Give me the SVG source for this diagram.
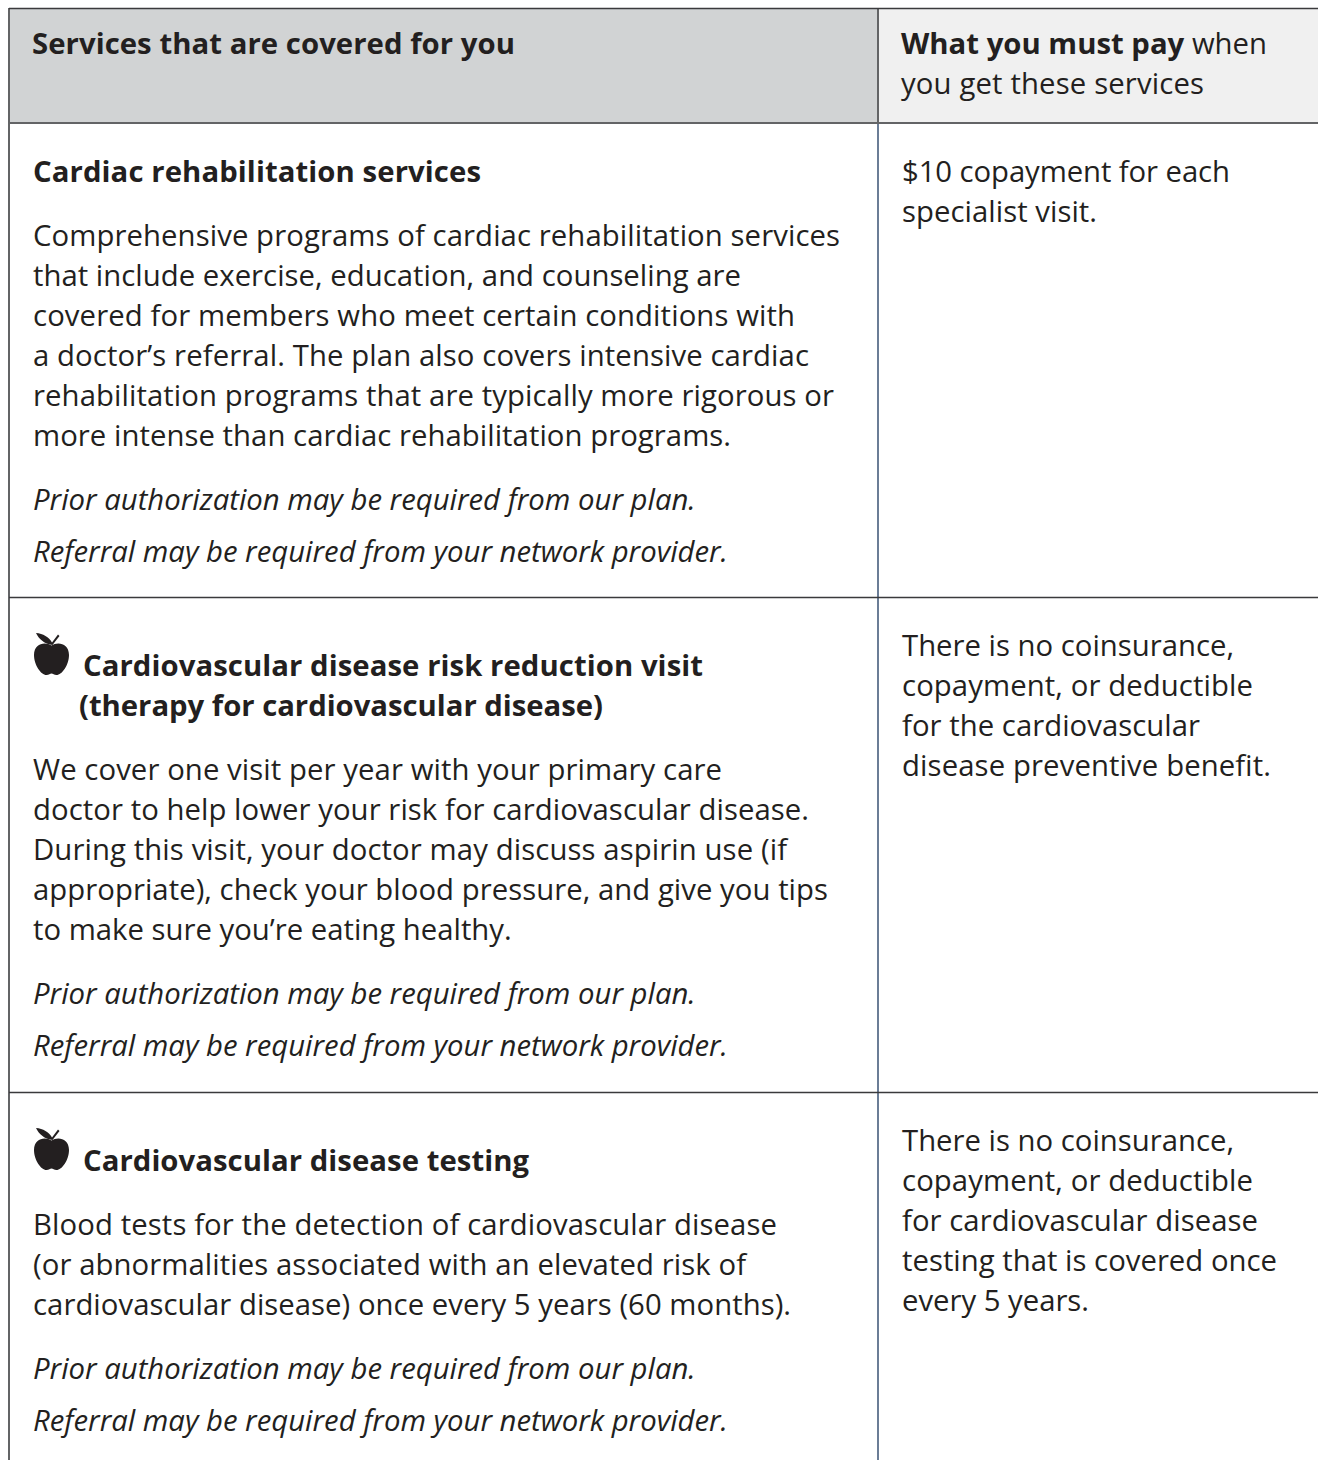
<svg xmlns="http://www.w3.org/2000/svg" width="1318" height="1460" viewBox="0 0 1318 1460">
<style>
text{font-family:"Open Sans","Noto Sans",sans-serif;font-size:29.3px;fill:#231f20}
.b{font-weight:700}.i{font-style:italic}
.l{stroke:#6b7d96;stroke-width:2;fill:none}
.k{stroke:#636466;stroke-width:2;fill:none}
.d{stroke:#3a3a3c;stroke-width:1.500;fill:none}
</style>
<defs>
<g id="apple"><path d="M18.500 12.500C13 8.500 1 9.500 1 22C1 32 8 42 13.500 42C16 42 17 40.500 18.500 40.500C20 40.500 21 42 23.500 42C29 42 36 32 36 22C36 9.500 24 8.500 18.500 12.500Z" fill="#231f20"/><path d="M3 0C10 0.500 16 4 19 9.500L25 1.500L26.500 3L19.500 12L17 11.500C12 10.500 6 6.500 3 0Z" fill="#231f20"/></g>
</defs>
<rect width="1318" height="1460" fill="#fff"/>
<rect x="9" y="9" width="869" height="114" fill="#d1d3d4"/>
<rect x="878" y="9" width="440" height="114" fill="#f0f0f0"/>
<g id="connectors">
<path class="l" d="M878 123V1460"/>
<path class="k" d="M9 123H1318M9 8V1460M878 8V123"/>
<path class="d" d="M9 8.500H1318M9 597.500H1318M9 1092.500H1318"/>
</g>
<g id="header">
<text class="b" x="32" y="54" textLength="483">Services that are covered for you</text>
<text x="901" y="54" textLength="366"><tspan class="b">What you must pay</tspan> when</text>
<text x="901" y="94" textLength="303">you get these services</text>
</g>
<g id="row1">
<text class="b" x="33" y="182" textLength="448">Cardiac rehabilitation services</text>
<text x="33" y="246" textLength="807">Comprehensive programs of cardiac rehabilitation services</text>
<text x="33" y="286" textLength="708">that include exercise, education, and counseling are</text>
<text x="33" y="326" textLength="762">covered for members who meet certain conditions with</text>
<text x="33" y="366" textLength="776">a doctor’s referral. The plan also covers intensive cardiac</text>
<text x="33" y="406" textLength="801">rehabilitation programs that are typically more rigorous or</text>
<text x="33" y="446" textLength="698">more intense than cardiac rehabilitation programs.</text>
<text class="i" x="33" y="510">Prior authorization may be required from our plan.</text>
<text class="i" x="33" y="562">Referral may be required from your network provider.</text>
<text x="902" y="182" textLength="328">$10 copayment for each</text>
<text x="902" y="222" textLength="195">specialist visit.</text>
</g>
<g id="row2">
<use href="#apple" x="33" y="633"/>
<text class="b" x="83" y="676" textLength="620">Cardiovascular disease risk reduction visit</text>
<text class="b" x="79" y="716" textLength="524">(therapy for cardiovascular disease)</text>
<text x="33" y="780" textLength="689">We cover one visit per year with your primary care</text>
<text x="33" y="820" textLength="776">doctor to help lower your risk for cardiovascular disease.</text>
<text x="33" y="860" textLength="754">During this visit, your doctor may discuss aspirin use (if</text>
<text x="33" y="900" textLength="795">appropriate), check your blood pressure, and give you tips</text>
<text x="33" y="940">to make sure you’re eating healthy.</text>
<text class="i" x="33" y="1004">Prior authorization may be required from our plan.</text>
<text class="i" x="33" y="1056">Referral may be required from your network provider.</text>
<text x="902" y="656">There is no coinsurance,</text>
<text x="902" y="696" textLength="351">copayment, or deductible</text>
<text x="902" y="736" textLength="298">for the cardiovascular</text>
<text x="902" y="776" textLength="369">disease preventive benefit.</text>
</g>
<g id="row3">
<use href="#apple" x="33" y="1128"/>
<text class="b" x="83" y="1171" textLength="446">Cardiovascular disease testing</text>
<text x="33" y="1235" textLength="744">Blood tests for the detection of cardiovascular disease</text>
<text x="33" y="1275" textLength="713">(or abnormalities associated with an elevated risk of</text>
<text x="33" y="1315" textLength="758">cardiovascular disease) once every 5 years (60 months).</text>
<text class="i" x="33" y="1379">Prior authorization may be required from our plan.</text>
<text class="i" x="33" y="1431">Referral may be required from your network provider.</text>
<text x="902" y="1151">There is no coinsurance,</text>
<text x="902" y="1191" textLength="351">copayment, or deductible</text>
<text x="902" y="1231" textLength="356">for cardiovascular disease</text>
<text x="902" y="1271" textLength="375">testing that is covered once</text>
<text x="902" y="1311" textLength="187">every 5 years.</text>
</g>
</svg>
